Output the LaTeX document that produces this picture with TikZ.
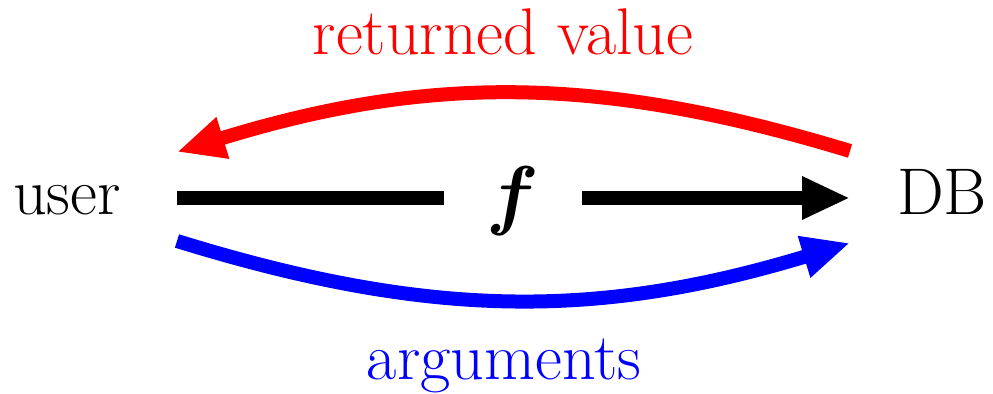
\documentclass[tikz,border=0pt]{standalone}
\usepackage{amsmath}
\usepackage{graphicx}
\usetikzlibrary{arrows.meta}
\begin{document}
\begin{tikzpicture}[x=0.5pt,y=-0.5pt,
  lbl/.style={inner sep=0pt,font=\fontsize{33}{40}\selectfont},
  conn/.style={line width=7pt},
  tip/.style={-{Triangle[length=24pt,width=20pt]}}]
\useasboundingbox (0,0) rectangle (993,394);
\node[lbl,anchor=base] (user) at (67,215) {user};
\node[lbl,anchor=base] (db) at (942,215) {DB};
\node[lbl,red,anchor=base] (ret) at (503,55) {returned value};
\node[lbl,blue,anchor=base] (args) at (504,380) {arguments};
\node[inner sep=0pt,minimum width=68.5pt,font=\fontsize{24.88}{30}\selectfont] (f) at (513,201) {\scalebox{1.56}{$\boldsymbol{f}$}};
\coordinate (a1) at (177,198);
\coordinate (a2) at (850,198);
\coordinate (r1) at (850,151);
\coordinate (r2) at (177,152);
\coordinate (b1) at (177,241);
\coordinate (b2) at (850,243);
\draw[conn] (a1) -- (f.west |- a1);
\draw[conn,tip] (f.east |- a2) -- (a2);
\draw[conn,red,tip] (r1) to[bend right=17] (r2);
\draw[conn,blue,tip] (b1) to[bend right=17] (b2);
\end{tikzpicture}
\end{document}
